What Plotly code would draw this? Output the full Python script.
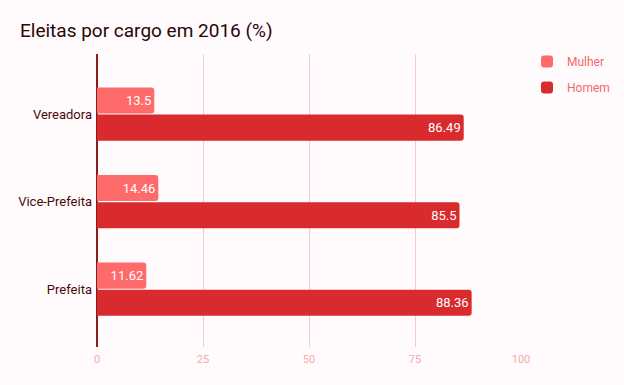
import plotly.graph_objects as go

categories = ["Vereadora", "Vice-Prefeita", "Prefeita"]
mulher = [13.5, 14.46, 11.62]
homem = [86.49, 85.5, 88.36]
x_ticks = [0, 25, 50, 75, 100]

bg = "#fffafc"
fig = go.Figure()
fig.add_trace(go.Bar(
    y=categories, x=mulher, name="Mulher", orientation="h",
    marker=dict(color="#ff6b6b", line=dict(width=0)),
    text=[str(v) for v in mulher], textposition="inside", insidetextanchor="end",
    textfont=dict(color="white", size=13, family="Roboto"),
    legendgroup="a",
))
fig.add_trace(go.Bar(
    y=categories, x=homem, name="Homem", orientation="h",
    marker=dict(color="#d92b2d", line=dict(width=0)),
    text=[str(v) for v in homem], textposition="inside", insidetextanchor="end",
    textfont=dict(color="white", size=13, family="Roboto"),
    legendgroup="b",
))

fig.update_layout(
    width=624, height=385,
    paper_bgcolor=bg, plot_bgcolor=bg,
    font=dict(family="Roboto", size=13),
    margin=dict(l=97, r=103, t=54, b=38, autoexpand=False),
    barmode="group", bargap=0.38, bargroupgap=0.04,
    barcornerradius=3,
    title=dict(text="Eleitas por cargo em 2016 (%)", x=20/624, xref="container", xanchor="left",
               y=1 - 30/385, yref="container", yanchor="middle",
               font=dict(family="Roboto", size=19, color="#2a0606")),
    xaxis=dict(range=[0, 100], tickvals=x_ticks, ticktext=[str(t) for t in x_ticks],
               showgrid=True, gridcolor="#f6c9cc", gridwidth=1,
               zeroline=True, zerolinecolor="#8e1b1b", zerolinewidth=1.5,
               tickfont=dict(color="#f7aaaa", size=11), showline=False,
               ticks="", ticklabelstandoff=4, fixedrange=True),
    yaxis=dict(categoryorder="array", categoryarray=categories,
               range=[2.66, -0.686],
               tickfont=dict(color="#4a0a0a", size=13), showgrid=False, zeroline=False,
               ticks="", ticklabelstandoff=4),
    legend=dict(x=527/624, xref="container", y=1 - 47/385, yref="container",
                xanchor="left", yanchor="top", traceorder="grouped", tracegroupgap=7,
                font=dict(color="#f06a6a", size=12), bgcolor="rgba(0,0,0,0)"),
    showlegend=True,
)

fig.write_html("out.html", config={"displayModeBar": False},
               post_script="document.body.style.margin='0';document.body.style.background='%s';" % bg)
